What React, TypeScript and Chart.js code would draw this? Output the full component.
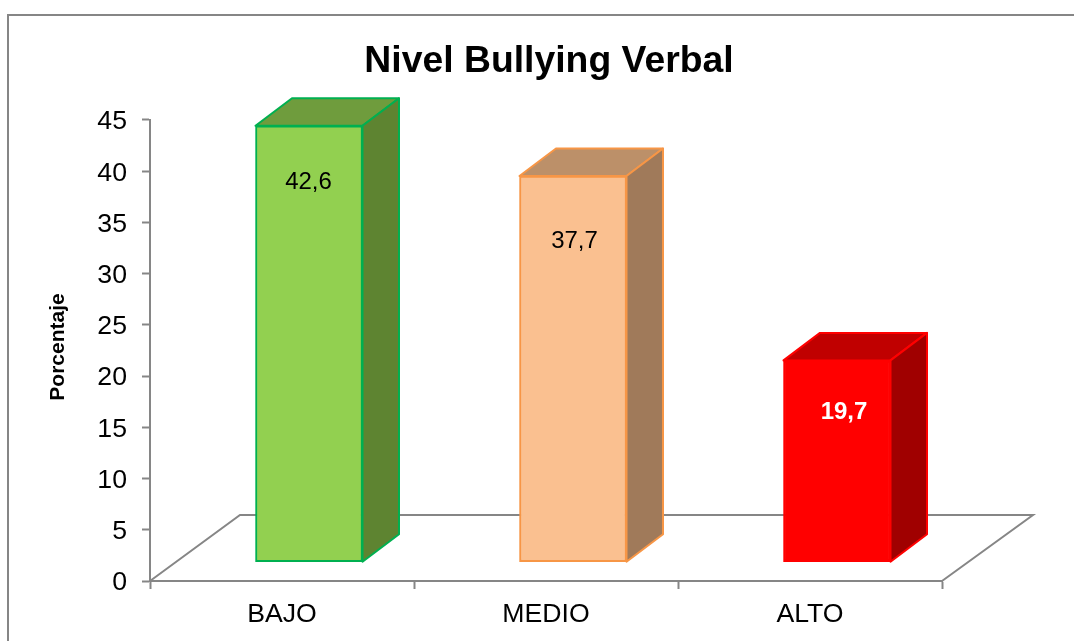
import React, { useEffect, useRef } from "react";
import { Chart, registerables } from "chart.js";

Chart.register(...registerables);

const categories = ["BAJO", "MEDIO", "ALTO"];
const values = [42.6, 37.7, 19.7];
const chartTitle = "Nivel Bullying Verbal";
const yAxisTitle = "Porcentaje";

const frontColors = ["#92D050", "#FAC090", "#FF0000"];
const edgeColors = ["#00B050", "#F79646", "#FF0000"];
const topColors = ["#6F9C3D", "#BC9069", "#C00000"];
const sideColors = ["#5E8431", "#A07A5A", "#A00000"];
const labelColors = ["#000000", "#000000", "#FFFFFF"];
const labelFonts = ["24px", "24px", "bold 24px"];
const labelDx = [-0.5, 1.5, 7];
const labelDy = [57, 65, 52];

const FONT = '"Liberation Sans", Arial, sans-serif';
const AXIS = "#868686";
const BAR_SHIFT_X = 27;
const BAR_SHIFT_Y = 18.8;
const DEPTH_X = 36.5;
const DEPTH_Y = 27.5;
const FLOOR_X = 90;
const FLOOR_Y = 66;

function shifted(ctx: any, dx: number, dy: number, draw: () => void) {
  ctx.save();
  ctx.translate(dx, dy);
  draw();
  ctx.restore();
}

const scene3d = {
  id: "scene3d",
  afterLayout(chart: any) {
    const { titleBlock, scales, ctx } = chart;
    titleBlock.left += 3;
    titleBlock.right += 3;
    const y = scales.y;
    const drawLabels = y.drawLabels.bind(y);
    const drawTitle = y.drawTitle.bind(y);
    y.drawLabels = (area: any) => shifted(ctx, 0, 2, () => drawLabels(area));
    y.drawTitle = () => shifted(ctx, 0, -3.5, () => drawTitle());
  },
  beforeDraw(chart: any) {
    const { ctx } = chart;
    ctx.save();
    ctx.strokeStyle = AXIS;
    ctx.lineWidth = 2;
    ctx.beginPath();
    ctx.moveTo(8, 700);
    ctx.lineTo(8, 15);
    ctx.lineTo(1100, 15);
    ctx.stroke();
    ctx.restore();
  },
  beforeDatasetsDraw(chart: any) {
    const { ctx, scales } = chart;
    const l = scales.x.left;
    const r = scales.x.right;
    const b = scales.y.bottom;
    ctx.save();
    ctx.strokeStyle = AXIS;
    ctx.lineWidth = 2;
    ctx.beginPath();
    ctx.moveTo(l, b);
    ctx.lineTo(l + FLOOR_X, b - FLOOR_Y);
    ctx.lineTo(r + FLOOR_X + 1, b - FLOOR_Y);
    ctx.lineTo(r, b);
    ctx.stroke();
    ctx.restore();
  },
  beforeDatasetDraw(chart: any) {
    chart.ctx.save();
    chart.ctx.translate(BAR_SHIFT_X, -BAR_SHIFT_Y);
  },
  afterDatasetDraw(chart: any) {
    chart.ctx.restore();
  },
  afterDatasetsDraw(chart: any) {
    const { ctx } = chart;
    const bars = chart.getDatasetMeta(0).data;
    ctx.save();
    ctx.translate(BAR_SHIFT_X, -BAR_SHIFT_Y);
    bars.forEach((bar: any, i: number) => {
      const { x, y, base, width } = bar.getProps(["x", "y", "base", "width"], true);
      const l = x - width / 2;
      const r = x + width / 2;
      ctx.lineWidth = 2;
      ctx.strokeStyle = edgeColors[i];
      ctx.lineJoin = "round";
      ctx.fillStyle = topColors[i];
      ctx.beginPath();
      ctx.moveTo(l, y);
      ctx.lineTo(l + DEPTH_X, y - DEPTH_Y);
      ctx.lineTo(r + DEPTH_X, y - DEPTH_Y);
      ctx.lineTo(r, y);
      ctx.closePath();
      ctx.fill();
      ctx.stroke();
      ctx.fillStyle = sideColors[i];
      ctx.beginPath();
      ctx.moveTo(r, y);
      ctx.lineTo(r + DEPTH_X, y - DEPTH_Y);
      ctx.lineTo(r + DEPTH_X, base - DEPTH_Y);
      ctx.lineTo(r, base);
      ctx.closePath();
      ctx.fill();
      ctx.stroke();
      ctx.font = `${labelFonts[i]} ${FONT}`;
      ctx.fillStyle = labelColors[i];
      ctx.textAlign = "center";
      ctx.textBaseline = "middle";
      ctx.fillText(values[i].toFixed(1).replace(".", ","), x + labelDx[i], y + labelDy[i]);
    });
    ctx.restore();
  },
};

export default function App() {
  const ref = useRef<HTMLCanvasElement>(null);
  useEffect(() => {
    const chart = new Chart(ref.current!, {
      type: "bar",
      data: {
        labels: categories,
        datasets: [
          {
            data: values,
            backgroundColor: frontColors,
            borderColor: edgeColors,
            borderWidth: 2,
            borderSkipped: false,
            barThickness: 107,
          },
        ],
      },
      plugins: [scene3d],
      options: {
        responsive: false,
        animation: false,
        layout: { padding: { left: 0, right: 132, top: 0, bottom: 0 } },
        plugins: {
          legend: { display: false },
          tooltip: { enabled: false },
          title: {
            display: true,
            text: chartTitle,
            fullSize: false,
            color: "#000000",
            font: { family: FONT, size: 37.33, weight: "bold" },
            padding: { top: 39.5, bottom: 35.7 },
          },
        },
        scales: {
          x: {
            grid: {
              offset: true,
              drawOnChartArea: false,
              tickColor: AXIS,
              tickLength: 8,
              tickWidth: 2,
            },
            border: { color: AXIS, width: 2 },
            ticks: {
              color: "#000000",
              padding: 10,
              maxRotation: 0,
              font: { family: FONT, size: 26.67 },
            },
            afterFit(scale: any) {
              scale.height = 60;
            },
          },
          y: {
            min: 0,
            max: 45,
            grid: {
              drawOnChartArea: false,
              tickColor: AXIS,
              tickLength: 8,
              tickWidth: 2,
            },
            border: { color: AXIS, width: 2 },
            ticks: {
              stepSize: 5,
              color: "#000000",
              padding: 15,
              font: { family: FONT, size: 26.67 },
            },
            title: {
              display: true,
              text: yAxisTitle,
              color: "#000000",
              font: { family: FONT, size: 21, weight: "bold" },
              padding: { top: 46, bottom: 0 },
            },
            afterFit(scale: any) {
              scale.width = 150;
            },
          },
        },
      },
    } as any);
    return () => chart.destroy();
  }, []);
  return (
    <canvas
      ref={ref}
      width={1074}
      height={641}
      style={{ position: "absolute", left: 0, top: 0, display: "block" }}
    />
  );
}
